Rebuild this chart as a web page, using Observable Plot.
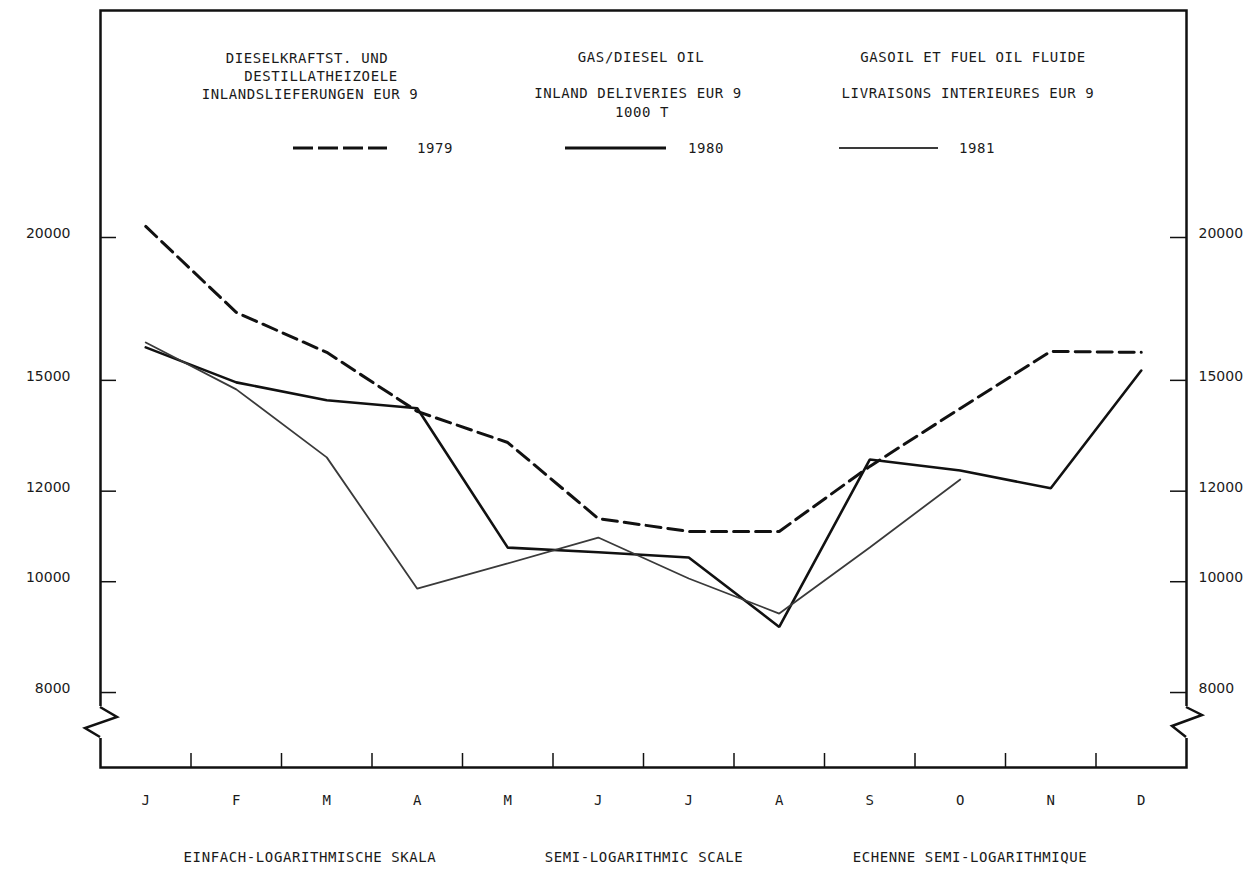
<!DOCTYPE html>
<html><head><meta charset="utf-8">
<script src="https://cdn.jsdelivr.net/npm/d3@7"></script>
<script src="https://cdn.jsdelivr.net/npm/@observablehq/plot@0.6"></script>
<style>
html,body{margin:0;padding:0;background:#fff;}
#wrap{position:relative;width:1255px;height:877px;overflow:hidden;background:#fff;}
#wrap svg{position:absolute;left:0;top:0;}
.t{position:absolute;transform:translate(-50%,-50%);font-family:"DejaVu Sans Mono",monospace;font-size:14px;letter-spacing:0.6px;color:#1a1a1a;white-space:nowrap;line-height:1;}
</style></head><body><div id="wrap"></div>
<script>
// ---- data ----
const monthLabels = ["J","F","M","A","M","J","J","A","S","O","N","D"];
const values1979 = [20450, 17200, 15870, 14090, 13235, 11356, 11065, 11065, 12614, 14176, 15900, 15870];
const values1980 = [16030, 14940, 14410, 14180, 10710, 10610, 10500, 9130, 12790, 12510, 12070, 15300];
const values1981 = [16190, 14730, 12845, 9860, 10374, 10931, 10065, 9379, 10713, 12286];
const yTicks = [8000, 10000, 12000, 15000, 20000];
const seriesLabels = ["1979", "1980", "1981"];
const titleDE = ["DIESELKRAFTST. UND", "DESTILLATHEIZOELE", "INLANDSLIEFERUNGEN EUR 9"];
const titleEN = ["GAS/DIESEL OIL", "INLAND DELIVERIES EUR 9", "1000 T"];
const titleFR = ["GASOIL ET FUEL OIL FLUIDE", "LIVRAISONS INTERIEURES EUR 9"];
const captions = ["EINFACH-LOGARITHMISCHE SKALA", "SEMI-LOGARITHMIC SCALE", "ECHENNE SEMI-LOGARITHMIQUE"];

const rows = vals => vals.map((v, i) => ({i, v}));
const n = monthLabels.length;
const mono = "DejaVu Sans Mono";
const W = 1255, H = 877, mL = 100, mR = 69, mT = 10, mB = 110;
const innerW = W - mL - mR;
const tk = 16;

const plot = Plot.plot({
  width: W, height: H,
  marginLeft: mL, marginRight: mR, marginTop: mT, marginBottom: mB,
  style: {background: "transparent", fontFamily: "DejaVu Sans", fontSize: "14px", color: "#1a1a1a"},
  x: {type: "linear", domain: [-0.5, n - 0.5], label: null},
  y: {type: "log", domain: [6879, 31590], label: null},
  marks: [
    Plot.frame({stroke: "#111", strokeWidth: 2.5}),
    // inward tick marks on both vertical edges
    Plot.tickY(yTicks, {y: d => d, insetRight: innerW - tk, stroke: "#111", strokeWidth: 1.5}),
    Plot.tickY(yTicks, {y: d => d, insetLeft: innerW - tk, stroke: "#111", strokeWidth: 1.5}),
    Plot.axisY(yTicks, {anchor: "left", tickSize: 0, tickPadding: 30, tickFormat: d => String(d), dy: -4, label: null, fontSize: 14}),
    Plot.axisY(yTicks, {anchor: "right", tickSize: 0, tickPadding: 12, tickFormat: d => String(d), dy: -4, label: null, fontSize: 14}),
    Plot.axisX(d3.range(n), {anchor: "bottom", tickSize: 0, tickPadding: 28, tickFormat: i => monthLabels[i], label: null, fontFamily: mono, fontSize: 14}),
    Plot.axisX(d3.range(n - 1).map(i => i + 0.5), {anchor: "bottom", tickSize: -14, tickFormat: () => "", label: null, strokeWidth: 1.5, stroke: "#111"}),
    Plot.line(rows(values1979), {x: "i", y: "v", stroke: "#111", strokeWidth: 3, strokeDasharray: "15,7", strokeLinejoin: "miter"}),
    Plot.line(rows(values1980), {x: "i", y: "v", stroke: "#111", strokeWidth: 2.6, strokeLinejoin: "miter"}),
    Plot.line(rows(values1981), {x: "i", y: "v", stroke: "#3a3a3a", strokeWidth: 1.8, strokeLinejoin: "miter"})
  ]
});

const wrap = document.getElementById("wrap");
wrap.appendChild(plot);

// axis-break zigzags on both vertical frame edges
const xs = plot.scale("x"), ys = plot.scale("y");
const L = xs.apply(-0.5), R = xs.apply(n - 0.5), B = ys.apply(ys.domain[0]);
const g = d3.select(plot).append("g");
[L, R].forEach(x0 => {
  g.append("line").attr("x1", x0).attr("x2", x0).attr("y1", B - 61).attr("y2", B - 29)
    .attr("stroke", "#fff").attr("stroke-width", 6);
});
g.append("path").attr("d", `M${L},${B - 60}L${L + 17},${B - 50}L${L - 15},${B - 39}L${L},${B - 30}`)
  .attr("fill", "none").attr("stroke", "#111").attr("stroke-width", 2.5).attr("stroke-linejoin", "miter");
g.append("path").attr("d", `M${R},${B - 60}L${R + 16},${B - 52}L${R - 14},${B - 41}L${R},${B - 30}`)
  .attr("fill", "none").attr("stroke", "#111").attr("stroke-width", 2.5).attr("stroke-linejoin", "miter");

// text overlays (title block, legend, caption)
function addText(str, cx, cy) {
  const d = document.createElement("div");
  d.className = "t";
  d.textContent = str;
  d.style.left = cx + "px";
  d.style.top = cy + "px";
  wrap.appendChild(d);
}
addText(titleDE[0], 307, 58);
addText(titleDE[1], 321, 76);
addText(titleDE[2], 310, 94);
addText(titleEN[0], 641, 57);
addText(titleEN[1], 638, 93);
addText(titleEN[2], 642, 112);
addText(titleFR[0], 973, 57);
addText(titleFR[1], 968, 93);

// legend
const lg = d3.select(wrap).append("svg").attr("width", W).attr("height", H).style("pointer-events", "none");
lg.append("line").attr("x1", 293).attr("x2", 387).attr("y1", 148).attr("y2", 148)
  .attr("stroke", "#111").attr("stroke-width", 3).attr("stroke-dasharray", "20,5");
lg.append("line").attr("x1", 565).attr("x2", 666).attr("y1", 148).attr("y2", 148)
  .attr("stroke", "#111").attr("stroke-width", 3);
lg.append("line").attr("x1", 839).attr("x2", 938).attr("y1", 148).attr("y2", 148)
  .attr("stroke", "#3a3a3a").attr("stroke-width", 2);
addText(seriesLabels[0], 435, 148);
addText(seriesLabels[1], 706, 148);
addText(seriesLabels[2], 977, 148);

// caption
addText(captions[0], 310, 857);
addText(captions[1], 644, 857);
addText(captions[2], 970, 857);
</script></body></html>
